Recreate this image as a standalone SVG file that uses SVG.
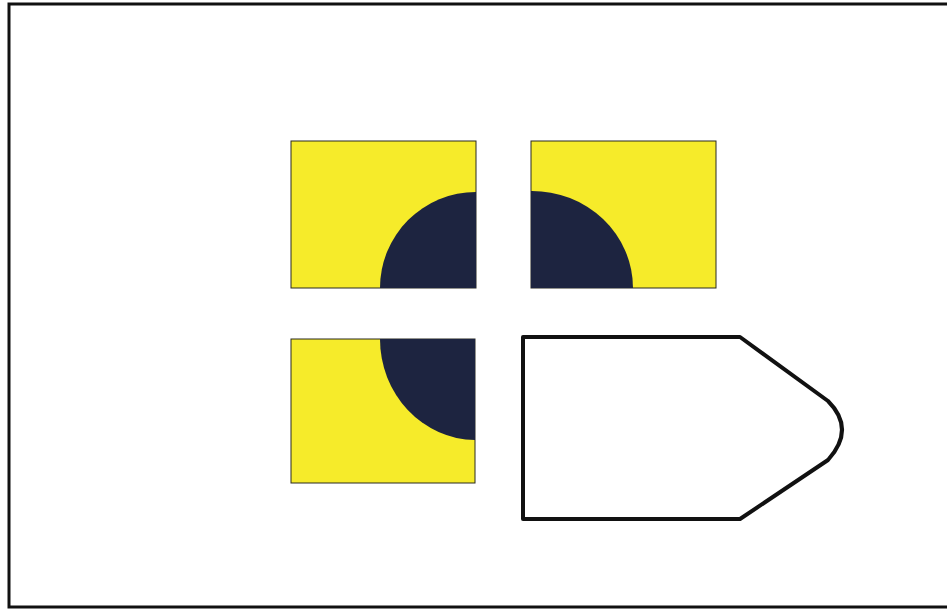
<svg xmlns="http://www.w3.org/2000/svg" width="947" height="611" viewBox="0 0 947 611">
<style>
.tile{fill:#f6eb2a;stroke:#2a2a20;stroke-width:1}
.dark{fill:#1d2440}
.shape{fill:#fff;stroke:#111;stroke-width:4;stroke-linejoin:round}
</style>
<rect width="947" height="611" fill="#fff"/>
<rect x="9" y="4" width="940" height="603" fill="none" stroke="#111" stroke-width="3"/>
<g id="tile1">
<rect class="tile" x="291" y="141" width="185" height="147"/>
<path class="dark" d="M476,288 L380,288 A96,96 0 0 1 476,192 Z"/>
</g>
<g id="tile2">
<rect class="tile" x="531" y="141" width="185" height="147"/>
<path class="dark" d="M531,288 L531,191 A101,97 0 0 1 633,288 Z"/>
</g>
<g id="tile3">
<rect class="tile" x="291" y="339" width="184" height="144"/>
<path class="dark" d="M475,339 L380,339 A96,101 0 0 0 475,440 Z"/>
</g>
<g id="shape">
<path class="shape" d="M523,337 L740,337 L828,401 Q856,429 828,460 L740,519 L523,519 Z"/>
</g>
</svg>
